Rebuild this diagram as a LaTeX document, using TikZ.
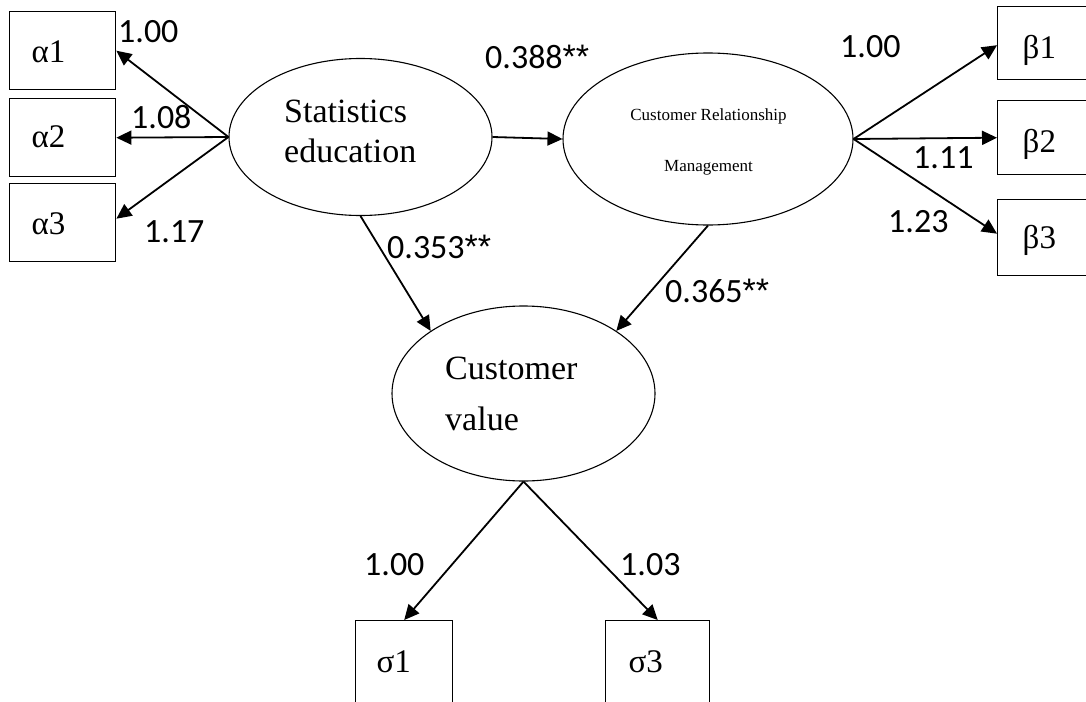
\documentclass[tikz,border=0pt]{standalone}
\usepackage{fontspec}
\setmainfont{Liberation Serif}
\newfontfamily\lblfont{Carlito}
\newfontfamily\astfont{Liberation Sans}
\newcommand{\sigstars}{{\astfont **}}
\usetikzlibrary{arrows.meta,shapes.geometric}
\begin{document}
\begin{tikzpicture}[x=1pt,y=-1pt,
  obsbox/.style={draw, line width=1.4pt, rectangle, anchor=north west, inner ysep=0pt,
    align=left, text depth=0pt, font=\fontsize{33}{36}\selectfont},
  latent/.style={draw, line width=1.1pt, ellipse, inner sep=0pt},
  ltext/.style={inner sep=0pt, anchor=base west, font=\fontsize{34}{38}\selectfont},
  stext/.style={inner sep=0pt, anchor=base, font=\fontsize{17}{20}\selectfont},
  coef/.style={inner sep=0pt, anchor=base west, font=\lblfont\fontsize{34}{38}\selectfont},
  path/.style={line width=1.8pt, -{Triangle[length=15pt,width=14pt]}}]
\useasboundingbox (0,0) rectangle (1086,701);
\fill[white] (0,0) rectangle (1086,701);
\clip (0,0) rectangle (1086,701);

% observed indicators
\node[obsbox, minimum height=78pt, text width=62pt, inner xsep=22pt, text height=24pt] (a1) at (9,11) {α1};
\node[obsbox, minimum height=78pt, text width=62pt, inner xsep=22pt, text height=20pt] (a2) at (9,98) {α2};
\node[obsbox, minimum height=78pt, text width=62pt, inner xsep=22pt, text height=23pt] (a3) at (9,183) {α3};
\node[obsbox, minimum height=73pt, text width=50pt, inner xsep=25pt, text height=31pt] (b1) at (997,6) {β1};
\node[obsbox, minimum height=74pt, text width=50pt, inner xsep=25pt, text height=30pt] (b2) at (997,100) {β2};
\node[obsbox, minimum height=76pt, text width=50pt, inner xsep=25pt, text height=22pt] (b3) at (997,199) {β3};
\node[obsbox, minimum height=84pt, text width=55pt, inner xsep=21pt, text height=20pt] (s1) at (355,620) {σ1};
\node[obsbox, minimum height=84pt, text width=58pt, inner xsep=23pt, text height=20pt] (s3) at (605,620) {σ3};

% latent variables
\node[latent, minimum width=263pt, minimum height=157pt] (SE) at (360.5,137) {};
\node[latent, minimum width=290pt, minimum height=172pt] (CRM) at (708,139) {};
\node[latent, minimum width=263pt, minimum height=175pt] (CV) at (523.5,393.5) {};

\node[ltext] (se1) at (284,122) {Statistics};
\node[ltext] (se2) at (284,162) {education};
\node[ltext] (cv1) at (445,379) {Customer};
\node[ltext] (cv2) at (445,430) {value};
\node[stext] (crm1) at (708.5,120) {Customer Relationship};
\node[stext] (crm2) at (708.5,171) {Management};

% paths
\draw[path] (SE.west) -- (a1.east);
\draw[path] (SE.west) -- (a2.east);
\draw[path] (SE.west) -- ([yshift=4pt]a3.east);
\draw[path] (SE.east) -- (CRM.west);
\draw[path] (CRM.east) -- ([yshift=-2pt]b1.west);
\draw[path] (CRM.east) -- (b2.west);
\draw[path] (CRM.east) -- ([yshift=4pt]b3.west);
\draw[path] (SE.south) -- (CV.146);
\draw[path] (CRM.south) -- (CV.34);
\draw[path] (CV.south) -- (s1.north);
\draw[path] (CV.south) -- (s3.north);

% coefficients
\node[coef] (c1) at (118,42) {1.00};
\node[coef] (c2) at (131,128) {1.08};
\node[coef] (c3) at (144,242) {1.17};
\node[coef] (c4) at (485,68) {0.388\sigstars};
\node[coef] (c5) at (840,57) {1.00};
\node[coef] (c6) at (913,168) {1.11};
\node[coef] (c7) at (888,232) {1.23};
\node[coef] (c8) at (387,258) {0.353\sigstars};
\node[coef] (c9) at (665,302) {0.365\sigstars};
\node[coef] (c10) at (364,575) {1.00};
\node[coef] (c11) at (620,575) {1.03};
\end{tikzpicture}
\end{document}
